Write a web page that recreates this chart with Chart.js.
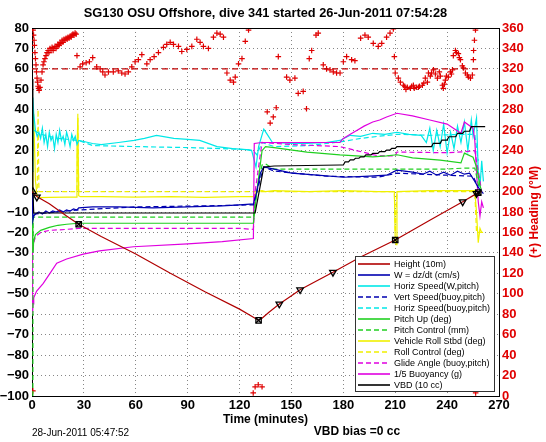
<!DOCTYPE html>
<html>
<head>
<meta charset="utf-8">
<script src="https://cdn.jsdelivr.net/npm/chart.js@4"></script>
<style>
  html, body { margin: 0; padding: 0; background: #fff; }
  #wrap { width: 546px; height: 442px; }
</style>
</head>
<body>
<div id="wrap"><canvas id="c" width="546" height="442"></canvas></div>
<script>
const FONT = '"Liberation Sans", Arial, Helvetica, sans-serif';

const titleText = "SG130 OSU Offshore, dive 341 started 26-Jun-2011 07:54:28";
const xLabel = "Time (minutes)";
const y2Label = "(+) Heading (\u00b0M)";
const dateNote = "28-Jun-2011 05:47:52";
const vbdNote = "VBD bias =0 cc";

// time in minutes, left axis values
const heightT = [0, 1, 3, 10, 20, 27, 40, 60, 80, 100, 120, 128, 131, 133, 137, 143, 150, 155, 165, 174, 190, 210, 230, 249, 256, 260];
const heightV = [0, -1, -2.5, -6, -12, -16, -22, -30.5, -40, -49, -57.5, -61.5, -63, -62, -59, -55, -51, -48, -43.5, -39.5, -32, -23.7, -14, -5, -1.5, 0];

const wT = [0, 0.5, 1, 2, 4, 6, 8, 10, 12, 14, 16, 18, 20, 22, 24, 26, 27, 35, 50, 70, 90, 110, 120, 128, 130, 132, 134, 140, 150, 165, 180, 195, 205, 211, 220, 226, 230, 234, 238, 242, 246, 250, 253, 256, 258, 260, 261];
const wV = [0, -14, -12, -11, -10, -11, -9.5, -10.5, -9.5, -10, -9, -10, -9, -9.5, -8.5, -9, -8, -7.5, -7.5, -8, -7.5, -7, -6.5, -6, 0, 9, 12, 11, 9, 8, 7, 7.5, 8, 10.5, 9.5, 8.5, 10, 8, 9.5, 8, 10, 8.5, 9, 5, 2, 0, -1];

const hSpdT = [0, 0.5, 1, 2, 3, 4, 5, 6, 7, 8, 9, 10, 11, 12, 13, 14, 15, 16, 17, 18, 19, 20, 21, 22, 23, 24, 25, 26, 27, 30, 35, 40, 50, 59, 65, 72, 82, 90, 97, 107, 116, 124, 127, 129.5, 131, 134, 136, 139, 150, 159, 170, 178, 184, 190, 197, 204, 211, 218, 225, 228, 230, 232, 234, 236, 238, 240, 242, 244, 246, 248, 250, 252, 254, 255, 257, 258, 259, 260, 261];
const hSpdV = [10, 46, 38, 30, 27, 29, 26, 31, 24, 28, 22, 29, 25, 27, 21, 28, 24, 30, 25, 27, 23, 29, 26, 22, 28, 25, 27, 23, 25, 24.5, 23.5, 23, 24, 25, 26, 27.5, 26, 25.5, 25, 22, 21, 20.5, 20, 12, 22, 30.5, 28, 24, 23.5, 23.5, 24, 25, 27.5, 27, 28.5, 28, 29, 28, 27.5, 24, 31, 20, 30, 22, 33, 19, 29, 21, 32, 24, 34, 20, 35, 27, 36, 10, 2, 15, 5];

const vSpdBT = [1, 27, 60, 100, 128, 130, 134, 140, 170, 200, 211, 240, 255, 258];
const vSpdBV = [-11, -9, -7.5, -7, -6.5, 0, 12, 10, 7.5, 7, 9, 8, 7.5, 2];

const hSpdBT = [1, 5, 15, 27, 35, 60, 90, 110, 125, 128, 130, 133, 140, 160, 180, 190, 200, 211, 230, 250, 256, 258];
const hSpdBV = [30, 28, 26, 25, 22.5, 22, 21.5, 21, 20.5, 20, 18, 24, 22, 22.5, 24.5, 26, 27, 28, 27.5, 28, 28, 15];

const pitchT = [0, 0.5, 1, 2, 5, 10, 15, 20, 27, 40, 60, 90, 120, 128, 130, 133, 135, 140, 159, 178, 197, 205, 211, 220, 236, 248, 250, 255, 257, 259, 260];
const pitchV = [0, -30, -24, -21, -19, -17.5, -16.5, -16, -15.5, -15.5, -15.5, -15.5, -15.5, -15.5, 0, 20, 22, 21.5, 19.3, 17.9, 17, 17.5, 18, 16.5, 15.4, 14, 18.8, 16.8, 12, 3, 0];

const pitchCtlT = [0.5, 0.6, 1, 27, 60, 128, 130, 133, 135, 140, 160, 200, 240, 250, 256, 259];
const pitchCtlV = [-100, -12.5, -12.5, -12.5, -12.5, -12.5, 0, 13, 13.5, 11, 11, 11, 11, 11.5, 11.5, 0];

const rollT = [0, 0.5, 1, 2, 3, 4, 10, 20, 25.5, 26, 26.5, 27, 28, 40, 60, 80, 100, 120, 128, 130, 133, 135, 140, 160, 180, 200, 209.5, 210, 210.5, 211, 230, 250, 256, 257, 258, 259, 260];
const rollV = [0, 20, 38, 5, -2.5, -3, -2.8, -2.7, -2.7, 20, 36, -2, -2.5, -2.5, -2.7, -2.5, -2.8, -2.5, -2.5, 0, 0.5, 0, 0.5, 0, 0.5, 0, 0, -24, -26, 0, 0.5, 0.5, 0.5, -10, -25, -18, -20];

const rollCtlT = [0, 3, 3.5, 4, 26, 26.5, 27, 128, 130, 133, 209.5, 210, 211, 256, 257, 258, 262];
const rollCtlV = [0, 0, 40, 0, 0, 38, 0, 0, 0, 0, 0, -20, 0, 0, -20, -20, -20];

const glideT = [0, 0.5, 1, 2, 5, 10, 20, 27, 60, 90, 120, 128, 129, 133, 150, 178, 200, 210, 211, 240, 250, 256, 258, 260];
const glideV = [0, -30, -25, -22, -20, -19, -18.5, -18, -18, -18, -18, -18.5, 0, 24, 23, 22, 17.5, 17.5, 19.3, 19, 19.5, 20, 10, 0];

const buoyT = [0, 0.3, 0.6, 1, 2, 2.7, 6.4, 10.4, 14.3, 20, 29.6, 39, 58.6, 90, 110, 128, 128.5, 133, 150, 178, 180, 184, 188, 192, 197, 201, 205, 211, 220, 230, 240, 248, 250, 255, 256, 257, 258, 259, 260, 261];
const buoyV = [0, -60, -55, -52, -50, -48.7, -45, -40, -35, -33, -30.6, -29, -27, -25.6, -24.5, -23, 23.5, 24, 24, 24, 26, 28, 30, 32, 34, 35, 36.5, 38.3, 37, 35, 33, 28.5, 34, 31, 25, 10, -5, -12, -5, -8];

const vbdT = [0, 0.5, 1, 128, 129, 134, 140, 178, 180, 181, 183, 184, 186, 187, 189, 190, 192, 193, 196, 197, 200, 201, 204, 205, 207, 208, 210, 211, 231, 232, 236, 237, 240, 241, 245, 246, 249, 250, 253, 254, 255, 262];
const vbdV = [55, 0, -10.5, -10.5, -10.5, 12, 12.5, 13, 13, 14.5, 14.5, 15.5, 15.5, 16.3, 16.3, 17, 17, 17.9, 17.9, 18.7, 18.7, 19.5, 19.5, 20.3, 20.3, 21.1, 21.1, 22, 22, 23.6, 23.6, 25.2, 25.2, 26.8, 26.8, 28.5, 28.5, 29.5, 29.5, 31.8, 31.8, 31.8];

// heading, right axis (deg M)
const headingT = [0, 0.6, 0.9, 1.2, 1.4, 1.7, 2.0, 2.3, 2.6, 2.9, 3.2, 3.5, 3.8, 4.1, 4.6, 5.2, 5.8, 6.4, 6.9, 7.5, 8.1, 8.7, 9.3, 9.8, 10.4, 11, 11.6, 12.2, 12.7, 13.3, 13.9, 14.5, 15, 15.6, 16.2, 16.8, 17.4, 17.9, 18.5, 19.1, 19.7, 20.3, 20.8, 21.4, 22, 22.6, 23.1, 23.7, 24.3, 24.9, 25.5, 26,
  27.8, 29.3, 31.3, 33.2, 35.1, 37.4, 39.4, 40.9, 42.2, 44.2, 47, 49.9, 51.9, 53.8, 55.7, 57.7, 59.6, 61.5, 63.5, 66.4, 68.3, 70.6, 73.1, 76, 77.9, 79.9, 81.8, 84.7, 86.6, 89.5, 92.4, 95.3, 97.2, 99.1, 102, 104.9, 106.9, 108.8, 110.7, 112.7, 114.6, 116.5, 117.5, 119.4, 121.4, 123.3, 125.2,
  0.5, 127.9, 129, 130.8, 133,
  136, 137.7, 139.5, 141.2, 142.4, 147.2, 149.1, 152, 153.9, 156.8, 158.7, 160.3, 161.7, 164.2, 165.5, 168.4, 170.3, 172.3, 174.2, 176.1, 178.1, 180, 181.9, 184.8, 186.7, 190, 192.5, 194.4, 197.3, 200.2, 202.2, 205, 207, 208.9, 209.5,
  210, 211.8, 213, 214.7, 215.5, 216.2, 217, 218.8, 219.5, 220.5, 221, 222.2, 223.4, 224, 225.7, 226.5, 227.4, 228.6, 229.2, 230.3, 231, 232.1, 233.2, 234.4, 235.5, 236.1, 237.3, 237.8, 238.4, 239, 239.6, 240.7, 241.9, 242.5, 243.1, 243.6, 244.8, 245.4, 246.5, 247.1, 247.7, 248.8, 249.4, 250.6, 251.7, 252.3, 253.5, 254.6, 255.2, 255.3, 255.8, 256.4, 256.5];
const headingV = [360, 358, 353, 348, 343, 336, 330, 324, 317, 311, 307, 303, 301, 299, 302, 309, 317, 324, 327, 330, 333, 336, 338, 336, 340, 338, 341, 338, 340, 342, 340, 342, 344, 343, 346, 345, 348, 346, 349, 348, 350, 349, 351, 350, 352, 351, 353, 354, 353, 355, 354, 333,
  322, 325, 326, 327, 331, 322, 320, 317, 314, 317, 317, 318, 316, 315, 317, 322, 327, 329, 334, 325, 329, 332, 336, 341, 344, 346, 344, 342, 337, 339, 342, 349, 346, 342, 340, 351, 355, 354, 351, 316, 309, 307, 312, 325, 330, 347, 358,
  5, 3, 9, 11, 9,
  278, 267, 273, 282, 332, 312, 309, 311, 296, 298, 281, 330, 338, 353, 355, 324, 320, 319, 317, 316, 316, 327, 332, 329, 328, 350, 353, 351, 345, 342, 345, 351, 355, 359, 332,
  316, 311, 307, 304, 303, 300, 302, 301, 303, 304, 301, 302, 302, 303, 304, 306, 311, 307, 316, 313, 316, 319, 315, 311, 317, 313, 304, 301, 305, 309, 313, 312, 317, 315, 319, 333, 338, 336, 335, 331, 329, 323, 321, 316, 314, 312, 311, 314, 329, 338, 348, 358, 3];

const headTargetT = [0, 259];
const headTargetV = [320, 320];

// black markers on the height trace
const triDownT = [2.8, 143, 155, 174, 249, 257];
const triDownV = [-2.7, -55, -48, -39.5, -5, -1];
const triUpT = [0.5];
const triUpV = [0];
const boxT = [27, 131, 210, 258];
const boxV = [-16, -63, -23.7, -0.5];

const LEGEND = ["Height (10m)", "W = dz/dt (cm/s)", "Horiz Speed(W,pitch)", "Vert Speed(buoy,pitch)",
  "Horiz Speed(buoy,pitch)", "Pitch Up (deg)", "Pitch Control (mm)", "Vehicle Roll Stbd (deg)",
  "Roll Control (deg)", "Glide Angle (buoy,pitch)", "1/5 Buoyancy (g)", "VBD (10 cc)"];

const zip = (t, v) => t.map((x, i) => ({ x, y: v[i] }));
const DASH = [5, 3];

function line(label, t, v, color, dash, width) {
  return {
    label, data: zip(t, v), showLine: true, borderColor: color, backgroundColor: color,
    borderWidth: width || 1.2, borderDash: dash || [], pointRadius: 0, tension: 0
  };
}
function marks(label, t, v, style, rot, color, r, yAxisID, bw) {
  return {
    label, data: zip(t, v), showLine: false, pointStyle: style, rotation: rot,
    pointRadius: r, pointBorderColor: color, pointBackgroundColor: "rgba(0,0,0,0)",
    pointBorderWidth: bw || 1.3, yAxisID: yAxisID || "y"
  };
}

const datasets = [
  marks("triDown", triDownT, triDownV, "triangle", 180, "#000", 3.8),
  marks("triUp", triUpT, triUpV, "triangle", 0, "#000", 3.8),
  marks("box", boxT, boxV, "rect", 0, "#000", 3.8),
  marks("boxX", boxT, boxV, "crossRot", 0, "#000", 3.8),
  line(LEGEND[0], heightT, heightV, "#b00000"),
  line(LEGEND[11], vbdT, vbdV, "#000000"),
  line(LEGEND[1], wT, wV, "#0000b0"),
  line(LEGEND[3], vSpdBT, vSpdBV, "#0000b0", DASH),
  line(LEGEND[5], pitchT, pitchV, "#20d020"),
  line(LEGEND[6], pitchCtlT, pitchCtlV, "#20d020", DASH),
  line(LEGEND[9], glideT, glideV, "#e000e0", DASH),
  line(LEGEND[10], buoyT, buoyV, "#e000e0"),
  line(LEGEND[2], hSpdT, hSpdV, "#00e8e8"),
  line(LEGEND[4], hSpdBT, hSpdBV, "#00e8e8", DASH),
  line(LEGEND[7], rollT, rollV, "#f0f000"),
  line(LEGEND[8], rollCtlT, rollCtlV, "#f0f000", DASH),
  Object.assign(line("headingTarget", headTargetT, headTargetV, "#c00000", [6, 4]), { yAxisID: "y2" }),
  marks("heading", headingT, headingV, "cross", 0, "#e00000", 2.8, "y2", 1.2)
];

const tickFont = { family: FONT, size: 13, weight: "bold" };
const minus = (v) => String(v).replace("-", "\u2212");

const decor = {
  id: "decor",
  afterDatasetsDraw(chart) {
    const { ctx, chartArea: a } = chart;
    ctx.save();
    // top frame line
    ctx.strokeStyle = "#000";
    ctx.lineWidth = 1;
    ctx.beginPath();
    ctx.moveTo(a.left, a.top + 0.5);
    ctx.lineTo(a.right, a.top + 0.5);
    ctx.stroke();

    // legend box
    const bx = 355, by = 256, bw = 139, bh = 135;
    ctx.fillStyle = "#fff";
    ctx.fillRect(bx, by, bw, bh);
    ctx.strokeStyle = "#333";
    ctx.strokeRect(bx + 0.5, by + 0.5, bw, bh);
    ctx.font = "9px " + FONT;
    ctx.textBaseline = "middle";
    ctx.textAlign = "left";
    LEGEND.forEach((lab, i) => {
      const ds = chart.data.datasets.find((d) => d.label === lab);
      const y = 264 + i * 11.0;
      ctx.strokeStyle = ds.borderColor;
      ctx.lineWidth = 1.6;
      ctx.setLineDash(ds.borderDash || []);
      ctx.beginPath();
      ctx.moveTo(358, y);
      ctx.lineTo(390, y);
      ctx.stroke();
      ctx.setLineDash([]);
      ctx.fillStyle = "#000";
      ctx.fillText(lab, 394, y + 0.5);
    });
    ctx.restore();
  },
  afterDraw(chart) {
    const { ctx, chartArea: a } = chart;
    ctx.save();
    ctx.fillStyle = "#000";
    ctx.textBaseline = "middle";
    ctx.textAlign = "center";
    ctx.font = "bold 12.8px " + FONT;
    ctx.fillText(titleText, (a.left + a.right) / 2, 13);
    ctx.font = "bold 12px " + FONT;
    ctx.fillText(xLabel, (a.left + a.right) / 2, 420);
    ctx.fillText(vbdNote, 357, 432);
    ctx.textAlign = "left";
    ctx.font = "10px " + FONT;
    ctx.fillText(dateNote, 32, 433);
    // right axis title, reading upward
    ctx.translate(535, (a.top + a.bottom) / 2);
    ctx.rotate(-Math.PI / 2);
    ctx.textAlign = "center";
    ctx.font = "bold 12px " + FONT;
    ctx.fillStyle = "#e00000";
    ctx.fillText(y2Label, 0, 0);
    ctx.restore();
  }
};

new Chart(document.getElementById("c"), {
  type: "scatter",
  data: { datasets },
  options: {
    responsive: false,
    animation: false,
    devicePixelRatio: 1,
    layout: { padding: { top: 28, left: 0, right: 0, bottom: 0 } },
    plugins: { legend: { display: false }, tooltip: { enabled: false }, title: { display: false } },
    scales: {
      x: {
        type: "linear", min: 0, max: 270,
        ticks: { stepSize: 30, color: "#000", font: tickFont, padding: 2, maxRotation: 0, autoSkip: false },
        grid: { color: "rgba(0,0,0,0.6)", lineWidth: 0.8, drawTicks: false },
        border: { color: "#000", width: 1, dash: [1, 3] },
        afterFit: (s) => { s.height = 46; }
      },
      y: {
        type: "linear", position: "left", min: -100, max: 80,
        ticks: { stepSize: 10, color: "#000", font: tickFont, padding: 3, autoSkip: false, callback: minus },
        grid: { color: "rgba(0,0,0,0.6)", lineWidth: 0.8, drawTicks: false },
        border: { color: "#000", width: 1, dash: [1, 3] },
        afterFit: (s) => { s.width = 32; }
      },
      y2: {
        type: "linear", position: "right", min: 0, max: 360,
        ticks: { stepSize: 20, color: "#e00000", font: tickFont, padding: 3, autoSkip: false },
        grid: { display: false, drawTicks: false },
        border: { color: "#000", width: 1 },
        afterFit: (s) => { s.width = 47; }
      }
    }
  },
  plugins: [decor]
});
</script>
</body>
</html>
